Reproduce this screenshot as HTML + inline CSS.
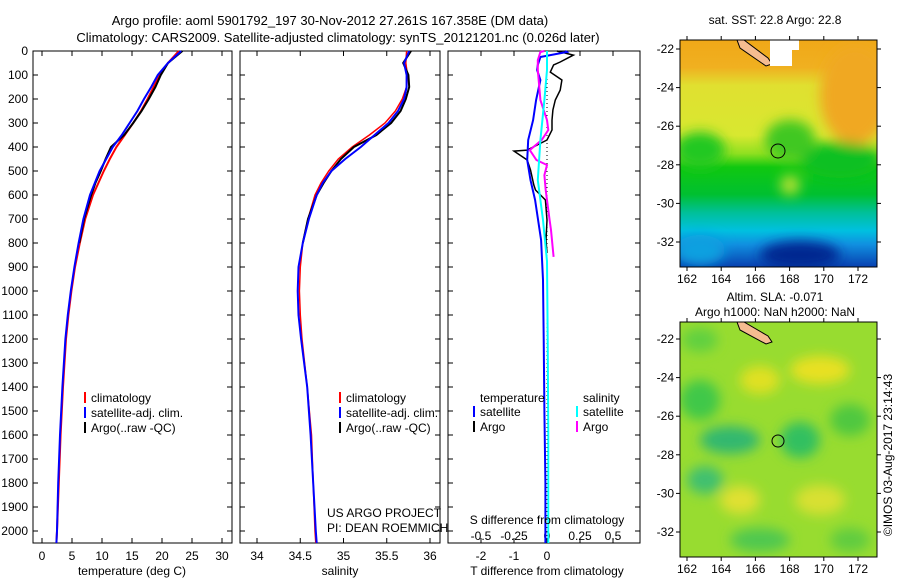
<!DOCTYPE html>
<html><head><meta charset="utf-8"><style>
body{margin:0;background:#fff;}
svg{display:block;font-family:"Liberation Sans",sans-serif;}
</style></head><body>
<svg id="fig" width="900" height="580" xmlns="http://www.w3.org/2000/svg">
<defs>
<linearGradient id="sstg" x1="0" y1="0" x2="0" y2="1">
<stop offset="0" stop-color="#f0a818"/><stop offset="0.12" stop-color="#f0b020"/><stop offset="0.2" stop-color="#e0e030"/>
<stop offset="0.42" stop-color="#d8e830"/><stop offset="0.5" stop-color="#90e020"/><stop offset="0.56" stop-color="#10c810"/>
<stop offset="0.68" stop-color="#00c030"/><stop offset="0.76" stop-color="#00c098"/><stop offset="0.84" stop-color="#00c0e0"/>
<stop offset="0.9" stop-color="#1090e0"/><stop offset="1" stop-color="#0840b0"/></linearGradient>
<filter id="bl"><feGaussianBlur stdDeviation="6"/></filter>
<clipPath id="c1"><rect x="680" y="40" width="197" height="227"/></clipPath>
<clipPath id="c2"><rect x="680" y="322" width="197" height="235"/></clipPath>
</defs>
<text x="330" y="25" font-size="13" text-anchor="middle">Argo profile: aoml 5901792_197 30-Nov-2012 27.261S 167.358E (DM data)</text>
<text x="338" y="42" font-size="13" text-anchor="middle">Climatology: CARS2009. Satellite-adjusted climatology: synTS_20121201.nc (0.026d later)</text>
<g id="axes"></g>
<g id="series"></g>
<!-- maps -->
<g clip-path="url(#c1)">
<rect x="680" y="40" width="197" height="227" fill="url(#sstg)"/>
<g filter="url(#bl)">
<ellipse cx="855" cy="95" rx="35" ry="50" fill="#f0a820"/>
<ellipse cx="700" cy="150" rx="25" ry="18" fill="#20c820"/>
<ellipse cx="840" cy="160" rx="40" ry="18" fill="#10c020"/>
<ellipse cx="790" cy="140" rx="25" ry="20" fill="#40c820"/>
<ellipse cx="790" cy="185" rx="10" ry="10" fill="#b0e030"/>
<ellipse cx="800" cy="255" rx="40" ry="14" fill="#002890"/>
<ellipse cx="700" cy="250" rx="25" ry="15" fill="#10a0e0"/>
</g>
<polygon points="737,40 744,40 768,58 772,64 766,66 740,48" fill="#f5bc90" stroke="#000" stroke-width="1"/>
<rect x="770" y="40" width="22" height="26" fill="#fff"/>
<rect x="791" y="40" width="8" height="10" fill="#fff"/>
<circle cx="778" cy="151" r="7" fill="none" stroke="#000" stroke-width="1"/>
</g>
<g clip-path="url(#c2)">
<rect x="680" y="322" width="197" height="235" fill="#98dc30"/>
<g filter="url(#bl)">
<ellipse cx="700" cy="400" rx="20" ry="20" fill="#40c848"/>
<ellipse cx="730" cy="440" rx="30" ry="14" fill="#30b870"/>
<ellipse cx="705" cy="480" rx="18" ry="14" fill="#40c070"/>
<ellipse cx="760" cy="380" rx="20" ry="14" fill="#e0e020"/>
<ellipse cx="820" cy="370" rx="30" ry="14" fill="#e8e020"/>
<ellipse cx="850" cy="420" rx="20" ry="16" fill="#50c840"/>
<ellipse cx="800" cy="440" rx="20" ry="18" fill="#30c060"/>
<ellipse cx="740" cy="500" rx="20" ry="14" fill="#e0e030"/>
<ellipse cx="820" cy="500" rx="25" ry="15" fill="#d8e030"/>
<ellipse cx="760" cy="540" rx="30" ry="12" fill="#50c850"/>
<ellipse cx="850" cy="540" rx="20" ry="12" fill="#60cc40"/>
<ellipse cx="700" cy="340" rx="18" ry="12" fill="#60d040"/>
</g>
<polygon points="737,322 744,322 768,336 772,342 766,344 740,330" fill="#f5bc90" stroke="#000" stroke-width="1"/>
<circle cx="778" cy="441" r="6" fill="none" stroke="#000" stroke-width="1"/>
</g>
<text x="775" y="24" font-size="12" text-anchor="middle">sat. SST: 22.8 Argo: 22.8</text>
<text x="775" y="301" font-size="12" text-anchor="middle">Altim. SLA: -0.071</text>
<text x="775" y="316" font-size="12" text-anchor="middle">Argo h1000: NaN h2000: NaN</text>
<text transform="translate(892,455) rotate(-90)" font-size="12" text-anchor="middle">©IMOS 03-Aug-2017 23:14:43</text>
<text x="327" y="517" font-size="12">US ARGO PROJECT</text>
<text x="327" y="532" font-size="12">PI: DEAN ROEMMICH</text>
<text x="547" y="524" font-size="12" text-anchor="middle">S difference from climatology</text>
<text x="547" y="575" font-size="12" text-anchor="middle">T difference from climatology</text>
<text x="132" y="575" font-size="12" text-anchor="middle">temperature (deg C)</text>
<text x="340" y="575" font-size="12" text-anchor="middle">salinity</text>
</svg>
<script>
// ---- data ----
const depthTicks=[0,100,200,300,400,500,600,700,800,900,1000,1100,1200,1300,1400,1500,1600,1700,1800,1900,2000];
const tempTicks=[0,5,10,15,20,25,30];
const salTicks=[34,34.5,35,35.5,36];
const salTickLabels=["34","34.5","35","35.5","36"];
const tdiffTicks=[-2,-1,0];
const sdiffTicks=[-0.5,-0.25,0,0.25,0.5];
const sdiffTickLabels=["-0.5","-0.25","0","0.25","0.5"];
const profDepth=[0,50,100,150,200,250,300,350,400,450,500,550,600,700,800,900,1000,1100,1200,1400,1600,1800,2000,2050];
const tempClim=[22.8,21.0,19.6,18.6,17.6,16.5,15.2,13.8,12.4,11.3,10.3,9.4,8.5,7.2,6.3,5.5,4.9,4.4,4.0,3.5,3.1,2.8,2.5,2.4];
const tempSat=[23.2,21.0,19.3,18.2,17.0,15.9,14.6,13.3,11.8,10.7,9.6,8.8,8.0,6.9,6.1,5.4,4.8,4.3,3.9,3.4,3.0,2.7,2.5,2.4];
const tempArgo=[23.4,21.0,19.8,18.9,17.8,16.6,15.2,13.7,11.5,10.6,9.8,8.9,8.2,7.0,6.2];
const salClim=[35.73,35.72,35.74,35.73,35.68,35.6,35.48,35.3,35.1,34.94,34.83,34.74,34.67,34.59,34.53,34.5,34.49,34.5,34.52,34.58,34.63,34.65,34.67,34.68];
const salSat=[35.76,35.7,35.73,35.73,35.7,35.63,35.52,35.36,35.2,35.02,34.86,34.76,34.69,34.6,34.53,34.48,34.47,34.48,34.51,34.58,34.62,34.65,34.68,34.69];
const salArgo=[35.78,35.69,35.75,35.76,35.72,35.66,35.55,35.38,35.12,34.97,34.86,34.77,34.69,34.59,34.53];
const argoDiffDepth=[0,17,46,58,88,121,163,204,246,288,329,371,413,417,454,496,558,579,621,704,788,842];
const argoTdiff=[0.3,0.8,0.4,0.2,0.1,0.45,0.4,0.25,0.18,0.15,0.15,0.0,-0.6,-1.0,-0.6,-0.5,-0.4,-0.35,-0.05,0.0,-0.03,0.0];
const satDiffDepth=[0,4,25,58,79,121,204,288,371,454,538,621,788,954,1200,1500,1800,2000,2050];
const satTdiff=[0.55,0.6,-0.2,-0.28,-0.3,-0.2,-0.33,-0.42,-0.57,-0.6,-0.5,-0.36,-0.18,-0.12,-0.1,-0.08,-0.05,-0.05,-0.05];
const argoSdiffDepth=[0,4,38,79,204,288,329,371,413,454,475,517,579,704,746,858];
const argoSdiff=[-0.02,-0.05,-0.07,-0.07,-0.05,0.0,0.01,-0.04,-0.13,-0.08,0.0,-0.02,-0.01,0.02,0.03,0.05];
const satSdiffDepth=[0,4,79,204,371,538,704,875,1200,1600,2050];
const satSdiff=[0.0,0.0,0.0,-0.02,-0.05,-0.07,-0.03,0.0,0.005,0.01,0.01];

const NS="http://www.w3.org/2000/svg";
const ax=document.getElementById('axes'), se=document.getElementById('series');
const yD=d=>51+d*0.24;
const xT=t=>42+t*6;
const xS=s=>257+(s-34)*86.5;
const xTd=v=>547+v*33;
const xSd=v=>547+v*132;
function mk(tag,attrs,parent){const e=document.createElementNS(NS,tag);for(const k in attrs)e.setAttribute(k,attrs[k]);parent.appendChild(e);return e;}
function txt(x,y,s,anchor,parent){const t=mk('text',{x:x,y:y,'font-size':12,'text-anchor':anchor},parent);t.textContent=s;return t;}

const panels=[[33,232,'temperature-panel'],[240,440,'salinity-panel'],[448,640,'difference-panel']];
panels.forEach(p=>{
  const r=mk('rect',{x:p[0],y:51,width:p[1]-p[0],height:492,fill:'none',stroke:'#000','stroke-width':1},ax);
  
  
  depthTicks.forEach(d=>{
    mk('line',{x1:p[0],x2:p[0]+5,y1:yD(d),y2:yD(d),stroke:'#000'},ax);
    mk('line',{x1:p[1]-5,x2:p[1],y1:yD(d),y2:yD(d),stroke:'#000'},ax);
  });
});
depthTicks.forEach(d=>{
  const t=txt(28,yD(d)+4,String(d),'end',ax);
  
  
});
tempTicks.forEach(v=>{
  mk('line',{x1:xT(v),x2:xT(v),y1:543,y2:538,stroke:'#000'},ax);mk('line',{x1:xT(v),x2:xT(v),y1:51,y2:56,stroke:'#000'},ax);
  const t=txt(xT(v),560,String(v),'middle',ax);
  
  
});
salTicks.forEach((v,i)=>{
  mk('line',{x1:xS(v),x2:xS(v),y1:543,y2:538,stroke:'#000'},ax);mk('line',{x1:xS(v),x2:xS(v),y1:51,y2:56,stroke:'#000'},ax);
  const t=txt(xS(v),560,salTickLabels[i],'middle',ax);
  
  
});
tdiffTicks.forEach(v=>{
  const t=txt(xTd(v),560,String(v),'middle',ax);
  
  
});
sdiffTicks.forEach((v,i)=>{
  mk('line',{x1:xSd(v),x2:xSd(v),y1:543,y2:538,stroke:'#000'},ax);mk('line',{x1:xSd(v),x2:xSd(v),y1:51,y2:56,stroke:'#000'},ax);
  const t=txt(xSd(v),540,sdiffTickLabels[i],'middle',ax);
  
  
});
const zl=mk('line',{x1:547,x2:547,y1:51,y2:543,stroke:'#000','stroke-dasharray':'1,3'},ax);



function line(xs,ds,fx,color,w,name){
  const pts=ds.map((d,i)=>fx(xs[i]).toFixed(1)+','+yD(d).toFixed(1)).join(' ');
  const l=mk('polyline',{points:pts,fill:'none',stroke:color,'stroke-width':w},se);
  
  
}
line(tempClim,profDepth,xT,'#f00',2,'temperature-climatology-line');
line(tempArgo,profDepth.slice(0,tempArgo.length),xT,'#000',2,'temperature-argo-line');
line(tempSat,profDepth,xT,'#00f',2,'temperature-satellite-line');
line(salClim,profDepth,xS,'#f00',1.5,'salinity-climatology-line');
line(salArgo,profDepth.slice(0,salArgo.length),xS,'#000',2,'salinity-argo-line');
line(salSat,profDepth,xS,'#00f',2,'salinity-satellite-line');
line(argoTdiff,argoDiffDepth,xTd,'#000',1.5,'t-diff-argo-line');
line(satTdiff,satDiffDepth,xTd,'#00f',2,'t-diff-satellite-line');
line(argoSdiff,argoSdiffDepth,xSd,'#f0f',2,'s-diff-argo-line');
line(satSdiff,satSdiffDepth,xSd,'#0ff',2,'s-diff-satellite-line');

function legend(x,y,color,label,name){
  mk('line',{x1:x,x2:x,y1:y-10,y2:y+1,stroke:color,'stroke-width':2},se);
  const t=txt(x+6,y,label,'start',se);
  
  
}
[[85,'temp'],[340,'sal']].forEach(o=>{
  legend(o[0],402,'#f00','climatology',o[1]+'-legend-climatology');
  legend(o[0],417,'#00f','satellite-adj. clim.',o[1]+'-legend-satellite');
  legend(o[0],432,'#000','Argo(..raw -QC)',o[1]+'-legend-argo');
});
const lt=txt(480,402,'temperature','start',se);


const ls=txt(583,402,'salinity','start',se);


legend(474,416,'#00f','satellite','diff-legend-t-satellite');
legend(474,431,'#000','Argo','diff-legend-t-argo');
legend(577,416,'#0ff','satellite','diff-legend-s-satellite');
legend(577,431,'#f0f','Argo','diff-legend-s-argo');

// map axes
const lons=[162,164,166,168,170,172];
const lats=[22,24,26,28,30,32];
const fig=document.getElementById('fig');
[[40,267,49,'sst'],[322,557,339,'sla']].forEach(m=>{
  const r=mk('rect',{x:680,y:m[0],width:197,height:m[1]-m[0],fill:'none',stroke:'#000'},fig);
  
  
  lons.forEach(v=>{const x=687+(v-162)*17.1;
    mk('line',{x1:x,x2:x,y1:m[1],y2:m[1]+4,stroke:'#000'},fig);mk('line',{x1:x,x2:x,y1:m[0]-4,y2:m[0],stroke:'#000'},fig);
    const t=txt(x,m[1]+16,String(v),'middle',fig);
    
    
  });
  lats.forEach(v=>{const y=m[2]+(v-22)*19.3;
    mk('line',{x1:676,x2:680,y1:y,y2:y,stroke:'#000'},fig);mk('line',{x1:877,x2:881,y1:y,y2:y,stroke:'#000'},fig);
    const t=txt(674,y+4,'-'+v,'end',fig);
    
    
  });
});
</script>
</body></html>
